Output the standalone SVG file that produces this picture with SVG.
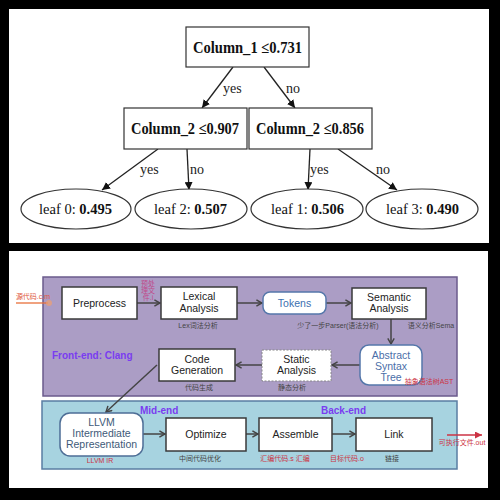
<svg xmlns="http://www.w3.org/2000/svg" width="500" height="500" viewBox="0 0 500 500">
<style>
.tb{font-family:"Liberation Serif",serif;font-weight:bold;font-size:16px;fill:#111}
.tl{font-family:"Liberation Serif",serif;font-size:15px;fill:#111}
.el{font-family:"Liberation Serif",serif;font-size:14px;fill:#222}
.tn{fill:#fff;stroke:#333;stroke-width:1.2}
.te{stroke:#222;stroke-width:1.3;fill:none}
.n{font-family:"Liberation Sans","DejaVu Sans",sans-serif;font-size:10.5px;fill:#222;text-anchor:middle}
.nb{fill:#fff;stroke:#3a3a3a;stroke-width:1.5}
.nr{fill:#fff;stroke:#5577aa;stroke-width:1.5}
.c{font-family:"Liberation Sans","Noto Sans CJK SC",sans-serif;font-size:7px;fill:#444;text-anchor:middle}
.cr{font-family:"Liberation Sans","Noto Sans CJK SC",sans-serif;font-size:7px;fill:#cc3344;text-anchor:middle}
.sec{font-family:"Liberation Sans","DejaVu Sans",sans-serif;font-weight:bold;font-size:10px;fill:#7a3cf0}
.bc{stroke:#444;stroke-width:1.5;fill:none}
</style>
<defs>
<marker id="ta" viewBox="0 0 10 10" refX="10" refY="5" markerWidth="8" markerHeight="8" markerUnits="userSpaceOnUse" orient="auto"><path d="M0,0 L10,5 L0,10 z" fill="#111"/></marker>
<marker id="ba" viewBox="0 0 10 10" refX="9" refY="5" markerWidth="8" markerHeight="8" markerUnits="userSpaceOnUse" orient="auto"><path d="M2,1 L9,5 L2,9" fill="none" stroke="#444" stroke-width="1.8"/></marker>
<marker id="ra" viewBox="0 0 10 10" refX="10" refY="5" markerWidth="8" markerHeight="7" markerUnits="userSpaceOnUse" orient="auto"><path d="M0,0 L10,5 L0,10 z" fill="#cc3344"/></marker>
</defs>
<rect width="500" height="500" fill="#000"/>
<rect x="9" y="9" width="480" height="234" fill="#fff"/>
<rect x="9" y="251" width="479" height="237" fill="#fff"/>

<!-- tree connectors -->
<g id="tree-edges">
<line class="te" x1="233" y1="67" x2="202" y2="108" marker-end="url(#ta)"/>
<line class="te" x1="264" y1="67" x2="295" y2="108" marker-end="url(#ta)"/>
<line class="te" x1="158" y1="149" x2="102" y2="190" marker-end="url(#ta)"/>
<line class="te" x1="187" y1="149" x2="189" y2="190" marker-end="url(#ta)"/>
<line class="te" x1="310" y1="149" x2="308" y2="190" marker-end="url(#ta)"/>
<line class="te" x1="338" y1="149" x2="397" y2="190" marker-end="url(#ta)"/>
<text class="el" x="223" y="93">yes</text>
<text class="el" x="286" y="93">no</text>
<text class="el" x="140" y="174">yes</text>
<text class="el" x="190" y="174">no</text>
<text class="el" x="310" y="174">yes</text>
<text class="el" x="376" y="174">no</text>
</g>
<g id="root"><rect class="tn" x="186" y="27" width="123" height="40"/><text class="tb" x="193" y="53" textLength="109" lengthAdjust="spacingAndGlyphs">Column_1 ≤0.731</text></g>
<g id="left"><rect class="tn" x="124" y="108" width="123" height="41"/><text class="tb" x="131" y="134" textLength="108" lengthAdjust="spacingAndGlyphs">Column_2 ≤0.907</text></g>
<g id="right"><rect class="tn" x="249" y="108" width="123" height="41"/><text class="tb" x="256" y="134" textLength="108" lengthAdjust="spacingAndGlyphs">Column_2 ≤0.856</text></g>
<g id="leaf0"><ellipse class="tn" cx="76" cy="209" rx="55" ry="20"/><text class="tl" x="39" y="214" textLength="73" lengthAdjust="spacingAndGlyphs">leaf 0: <tspan font-weight="bold">0.495</tspan></text></g>
<g id="leaf2"><ellipse class="tn" cx="191" cy="209" rx="56" ry="20"/><text class="tl" x="154" y="214" textLength="73" lengthAdjust="spacingAndGlyphs">leaf 2: <tspan font-weight="bold">0.507</tspan></text></g>
<g id="leaf1"><ellipse class="tn" cx="307" cy="209" rx="56" ry="20"/><text class="tl" x="271" y="214" textLength="73" lengthAdjust="spacingAndGlyphs">leaf 1: <tspan font-weight="bold">0.506</tspan></text></g>
<g id="leaf3"><ellipse class="tn" cx="422" cy="209" rx="56" ry="20"/><text class="tl" x="386" y="214" textLength="73" lengthAdjust="spacingAndGlyphs">leaf 3: <tspan font-weight="bold">0.490</tspan></text></g>

<!-- bottom panels -->
<rect x="43" y="277" width="414" height="119" fill="#ab9dc5" stroke="#6b5b8c" stroke-width="1.5"/>
<rect x="42" y="401" width="415" height="68" fill="#a7d3e0" stroke="#5a7ea3" stroke-width="1.5"/>
<text class="sec" x="52" y="359">Front-end: Clang</text>
<text class="sec" x="140" y="414">Mid-end</text>
<text class="sec" x="321" y="414">Back-end</text>

<g id="connectors">
<line x1="16" y1="303" x2="48" y2="303" stroke="#e8703a" stroke-width="1.3"/>
<circle cx="49" cy="303" r="3" fill="#f0a070" opacity="0.7"/>
<line class="bc" x1="137" y1="303" x2="160" y2="303" marker-end="url(#ba)"/>
<line class="bc" x1="237" y1="303" x2="262" y2="303" marker-end="url(#ba)"/>
<line class="bc" x1="326" y1="303" x2="351" y2="303" marker-end="url(#ba)"/>
<line class="bc" x1="391" y1="319" x2="391" y2="344" marker-end="url(#ba)"/>
<line class="bc" x1="360" y1="365" x2="332" y2="365" marker-end="url(#ba)"/>
<line class="bc" x1="262" y1="365" x2="236" y2="365" marker-end="url(#ba)"/>
<line class="bc" x1="157" y1="365" x2="106" y2="412" marker-end="url(#ba)" stroke-width="1.2"/>
<line class="bc" x1="143" y1="434" x2="165" y2="434" marker-end="url(#ba)"/>
<line class="bc" x1="246" y1="434" x2="258" y2="434" marker-end="url(#ba)"/>
<line class="bc" x1="332" y1="434" x2="355" y2="434" marker-end="url(#ba)"/>
<line x1="447" y1="435" x2="482" y2="435" stroke="#cc3344" stroke-width="1.3" marker-end="url(#ra)"/>
</g>

<g id="preprocess"><rect class="nb" x="62" y="287" width="75" height="32"/><text class="n" x="99.5" y="307">Preprocess</text></g>
<g id="lexical"><rect class="nb" x="161" y="287" width="76" height="32"/><text class="n" x="199" y="300">Lexical</text><text class="n" x="199" y="312">Analysis</text></g>
<g id="tokens"><rect class="nr" x="263" y="292" width="63" height="22" rx="7"/><text class="n" x="294.5" y="307" style="fill:#3b6fb0">Tokens</text></g>
<g id="semantic"><rect class="nb" x="352" y="288" width="74" height="31"/><text class="n" x="389" y="301">Semantic</text><text class="n" x="389" y="312">Analysis</text></g>
<g id="ast"><rect class="nr" x="360" y="345" width="62" height="40" rx="9"/><text class="n" x="391" y="359" style="fill:#4a6ea8">Abstract</text><text class="n" x="391" y="370" style="fill:#4a6ea8">Syntax</text><text class="n" x="391" y="381" style="fill:#4a6ea8">Tree</text></g>
<g id="static"><rect x="262" y="350" width="69" height="31" fill="#fff" stroke="#888" stroke-width="1" stroke-dasharray="2,1.5"/><text class="n" x="296.5" y="363">Static</text><text class="n" x="296.5" y="374">Analysis</text></g>
<g id="codegen"><rect class="nb" x="159" y="349" width="76" height="32"/><text class="n" x="197" y="363">Code</text><text class="n" x="197" y="374">Generation</text></g>
<g id="llvm"><rect class="nr" x="60" y="413" width="83" height="43" rx="10" style="stroke:#4e6e96"/><text class="n" x="101.5" y="426" style="fill:#3e5a78">LLVM</text><text class="n" x="101.5" y="437" style="fill:#3e5a78">Intermediate</text><text class="n" x="101.5" y="448" style="fill:#3e5a78">Representation</text></g>
<g id="optimize"><rect class="nb" x="166" y="418" width="80" height="33"/><text class="n" x="206" y="438">Optimize</text></g>
<g id="assemble"><rect class="nb" x="259" y="418" width="73" height="33"/><text class="n" x="295.5" y="438">Assemble</text></g>
<g id="link"><rect class="nb" x="356" y="418" width="76" height="33"/><text class="n" x="394" y="438">Link</text></g>

<!-- small annotations -->
<text class="cr" x="33" y="299" style="fill:#e0553a">源代码.c.m</text>
<text class="cr" x="148" y="286" style="fill:#c04a8a">预处</text>
<text class="cr" x="148" y="293" style="fill:#c04a8a">理文</text>
<text class="cr" x="148" y="300" style="fill:#c04a8a">件.i</text>
<text class="c" x="198" y="328">Lex词法分析</text>
<text class="c" x="338" y="328">少了一步Parser(语法分析)</text>
<text class="c" x="431" y="328">语义分析Sema</text>
<text class="cr" x="429" y="384">抽象语法树AST</text>
<text class="c" x="199" y="390">代码生成</text>
<text class="c" x="292" y="390">静态分析</text>
<text class="cr" x="100" y="463">LLVM IR</text>
<text class="c" x="200" y="461">中间代码优化</text>
<text class="cr" x="285" y="461">汇编代码.s  汇编</text>
<text class="cr" x="347" y="461">目标代码.o</text>
<text class="c" x="392" y="461">链接</text>
<text class="cr" x="462" y="445">可执行文件.out</text>
</svg>
